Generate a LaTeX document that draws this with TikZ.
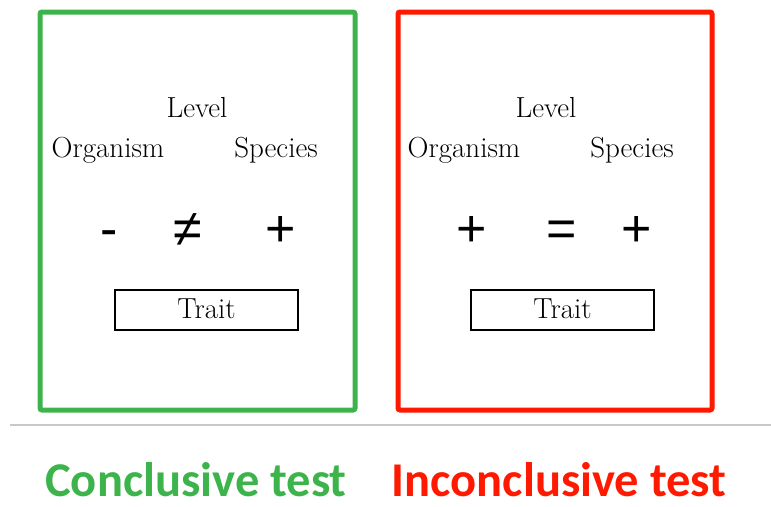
\documentclass[tikz,border=0pt]{standalone}
\usepackage{fontspec}
\newfontfamily\signfont{Liberation Sans}
\newfontfamily\verdictfont{Carlito}
\usetikzlibrary{positioning}
\definecolor{conclusiveColor}{RGB}{60,180,75}
\definecolor{inconclusiveColor}{RGB}{255,25,0}
\definecolor{ruleColor}{RGB}{200,200,200}
\tikzset{panel/.style={draw, line width=5pt, rounded corners=2pt, minimum width=315pt, minimum height=398pt, inner sep=0pt}}
\tikzset{trait/.style={draw, line width=2pt, minimum width=183pt, minimum height=40pt, inner sep=0pt, text depth=2pt, font=\fontsize{29}{33}\selectfont}}
\tikzset{word/.style={anchor=base, inner sep=0pt, font=\fontsize{29}{33}\selectfont}}
\tikzset{sign/.style={anchor=base, inner sep=0pt, font=\signfont\fontsize{52}{56}\selectfont}}
\tikzset{verdict/.style={anchor=base, inner sep=0pt, font=\verdictfont\bfseries\fontsize{48.5}{54}\selectfont}}

\begin{document}
\begin{tikzpicture}[x=1pt, y=-1pt]
	\useasboundingbox (0,0) rectangle (771,506);
	% Nodes
		\node (conclusive) [panel, draw=conclusiveColor] at (197.5,211) {};
		\node (inconclusive) [panel, draw=inconclusiveColor, minimum width=314pt] at (555,211) {};

		% conclusive panel
		\node (levelA) [word] at (197,117) {Level};
		\node (organismA) [word] at (108,157) {Organism};
		\node (speciesA) [word] at (276,157) {Species};
		\node (minusA) [sign] at (109,246) {-};
		\node (neqA) [sign] at (188,246) {≠};
		\node (plusA) [sign] at (281,246) {+};
		\node (traitA) [trait] at (206.5,310) {Trait};

		% inconclusive panel
		\node (levelB) [word] at (546,117) {Level};
		\node (organismB) [word] at (464,157) {Organism};
		\node (speciesB) [word] at (632,157) {Species};
		\node (plusB) [sign] at (472,246) {+};
		\node (eqB) [sign] at (562,246) {=};
		\node (plusC) [sign] at (637,246) {+};
		\node (traitB) [trait] at (562.5,310) {Trait};

		% separator and verdicts
		\coordinate (ruleL) at (10,425);
		\coordinate (ruleR) at (771,425);
		\draw [ruleColor, line width=1.5pt] (ruleL) -- (ruleR);

		\node (conclusiveText) [verdict, text=conclusiveColor] at (196,496) {Conclusive test};
		\node (inconclusiveText) [verdict, text=inconclusiveColor] at (559,496) {Inconclusive test};

\end{tikzpicture}
\end{document}
